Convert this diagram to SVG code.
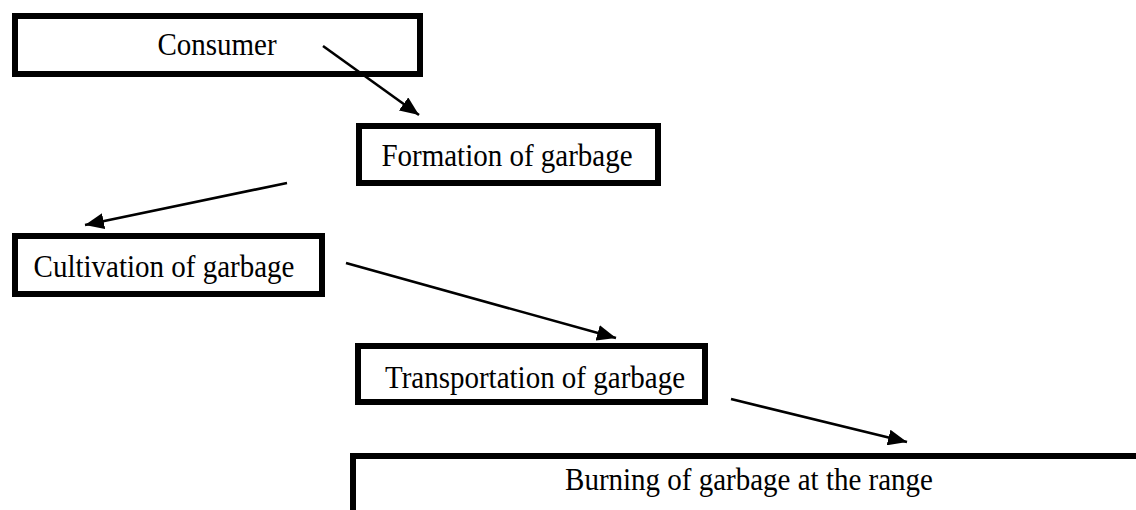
<svg xmlns="http://www.w3.org/2000/svg" width="1136" height="510" viewBox="0 0 1136 510">
  <style>
    .box { fill: #ffffff; stroke: #000000; stroke-width: 6; }
    .label { font-family: "Liberation Serif", "Times New Roman", serif; font-size: 29px; fill: #000000; text-anchor: middle; }
    .link { stroke: #000000; stroke-width: 2.6; fill: none; marker-end: url(#arrowhead); }
  </style>
  <defs>
    <marker id="arrowhead" markerUnits="userSpaceOnUse" markerWidth="20" markerHeight="16" viewBox="0 0 20 16" refX="19" refY="8" orient="auto">
      <path d="M0,0 L19,8 L0,16 Z" fill="#000000"/>
    </marker>
  </defs>
  <rect width="1136" height="510" fill="#ffffff"/>

  <g id="consumer">
    <rect class="box" x="15" y="16" width="405" height="58"/>
    <text class="label" transform="translate(217,55) scale(1,1.08)">Consumer</text>
  </g>

  <g id="formation">
    <rect class="box" x="359" y="126" width="299" height="57"/>
    <text class="label" transform="translate(507,166) scale(1,1.08)">Formation of garbage</text>
  </g>

  <g id="cultivation">
    <rect class="box" x="15" y="236" width="307" height="58"/>
    <text class="label" transform="translate(164,277) scale(1,1.08)">Cultivation of garbage</text>
  </g>

  <g id="transportation">
    <rect class="box" x="358" y="346" width="347" height="56"/>
    <text class="label" transform="translate(535,388) scale(1,1.08)">Transportation of garbage</text>
  </g>

  <g id="burning">
    <rect class="box" x="353" y="456" width="900" height="100"/>
    <text class="label" transform="translate(749,490) scale(1,1.08)">Burning of garbage at the range</text>
  </g>

  <g id="connectors">
    <line class="link" x1="323" y1="46" x2="419" y2="115"/>
    <line class="link" x1="287" y1="183" x2="85" y2="225"/>
    <line class="link" x1="346" y1="263" x2="616" y2="338"/>
    <line class="link" x1="731" y1="399" x2="907" y2="442"/>
  </g>
</svg>
